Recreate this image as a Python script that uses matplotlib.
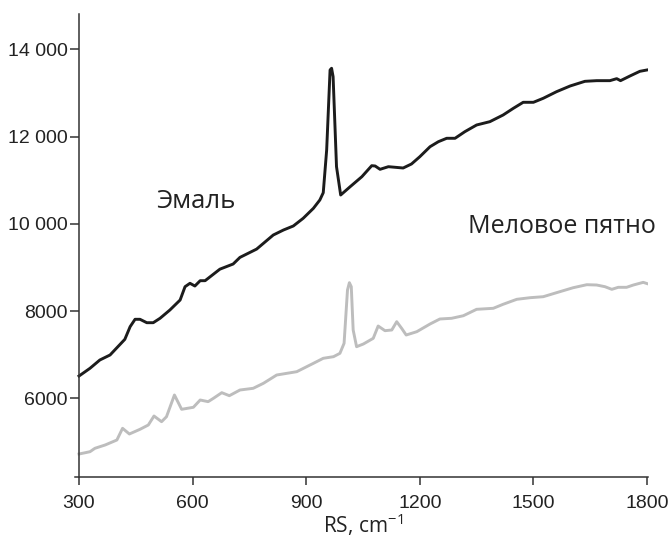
import matplotlib
matplotlib.use("Agg")
import matplotlib.pyplot as plt

# Raman spectra: enamel and chalky spot
enamel_rs = [300, 329, 355, 382, 421, 435, 448, 461, 479, 496, 514, 540, 567, 580, 593, 606,
             620, 633, 672, 707, 725, 769, 813, 840, 866, 892, 919, 936, 945, 954, 963, 967,
             971, 980, 991, 1016, 1047, 1073, 1082, 1095, 1117, 1156, 1178, 1200, 1227, 1249,
             1271, 1293, 1319, 1350, 1385, 1420, 1447, 1473, 1500, 1526, 1561, 1597, 1636,
             1667, 1702, 1720, 1730, 1755, 1781, 1800]
enamel_int = [6511, 6688, 6878, 6993, 7352, 7642, 7811, 7811, 7733, 7733, 7834, 8024, 8253,
              8558, 8636, 8574, 8696, 8696, 8960, 9078, 9230, 9420, 9743, 9858, 9950, 10126,
              10355, 10546, 10713, 11692, 13526, 13565, 13372, 11309, 10660, 10850, 11080,
              11332, 11325, 11249, 11309, 11279, 11371, 11538, 11767, 11882, 11960, 11960,
              12112, 12265, 12341, 12494, 12647, 12785, 12785, 12877, 13028, 13159, 13266,
              13281, 13281, 13327, 13281, 13388, 13495, 13526]

chalk_rs = [300, 329, 342, 369, 400, 415, 433, 461, 483, 498, 518, 531, 552, 571, 602, 620,
            641, 655, 677, 697, 725, 760, 787, 822, 875, 919, 945, 972, 989, 1000, 1009, 1014,
            1019, 1024, 1033, 1051, 1077, 1090, 1108, 1126, 1139, 1152, 1164, 1192, 1227,
            1253, 1284, 1315, 1350, 1394, 1420, 1456, 1491, 1526, 1561, 1605, 1641, 1667,
            1689, 1707, 1724, 1746, 1764, 1790, 1800]
chalk_int = [4723, 4776, 4854, 4930, 5044, 5312, 5182, 5289, 5388, 5594, 5464, 5578, 6076,
             5748, 5794, 5961, 5923, 6000, 6129, 6060, 6190, 6229, 6344, 6534, 6610, 6802,
             6917, 6954, 7031, 7261, 8482, 8650, 8558, 7566, 7183, 7245, 7375, 7657, 7550,
             7566, 7756, 7604, 7451, 7527, 7703, 7818, 7834, 7893, 8040, 8063, 8155, 8269,
             8306, 8329, 8421, 8535, 8604, 8597, 8558, 8498, 8544, 8544, 8597, 8658, 8630]

x_ticks = [300, 600, 900, 1200, 1500, 1800]
y_ticks = [6000, 8000, 10000, 12000, 14000]
y_tick_labels = ["6000", "8000", "10 000", "12 000", "14 000"]

plt.rcParams["mathtext.fontset"] = "custom"
plt.rcParams["mathtext.rm"] = "Open Sans"

fig = plt.figure(figsize=(6.69, 5.4), dpi=100)
ax = fig.add_axes([75 / 669, 1 - 476.7 / 540, (648 - 75) / 669, (476.7 - 14) / 540])

ax.plot(enamel_rs, enamel_int, color="#1c1c1c", lw=2.1, solid_joinstyle="round")
ax.plot(chalk_rs, chalk_int, color="#bdbdbd", lw=2.1, solid_joinstyle="round")

ax.set_xlim(289.4, 1802.6)
ax.set_ylim(4203, 14809)
ax.spines["left"].set_position(("data", 300))
ax.spines["top"].set_visible(False)
ax.spines["right"].set_visible(False)
for s in ("left", "bottom"):
    ax.spines[s].set_color("#333333")
    ax.spines[s].set_linewidth(1.1)

tick_font = {"family": "Liberation Sans", "size": 14, "color": "#222222"}
ax.set_xticks(x_ticks)
ax.set_xticklabels([str(v) for v in x_ticks], fontdict=tick_font)
ax.set_yticks(y_ticks)
ax.set_yticklabels(y_tick_labels, fontdict=tick_font)
ax.tick_params(axis="x", direction="out", length=6, width=1.1, color="#333333", pad=7)
ax.tick_params(axis="y", direction="out", length=6.5, width=1.1, color="#333333", pad=1.5)

# axis title sits at the very bottom of the figure
fig.text(363 / 669, 1 - 533 / 540, r"RS, cm$^{-1}$", family="Open Sans", fontsize=15,
         color="#222222", ha="center", va="baseline")

ax.text(503, 10362, "Эмаль", family="Open Sans", fontsize=18.5, color="#222222",
        ha="left", va="baseline")
ax.text(1327, 9789, "Меловое пятно", family="Open Sans", fontsize=18, color="#222222",
        ha="left", va="baseline", clip_on=False)

fig.savefig("out.png", dpi=100)
